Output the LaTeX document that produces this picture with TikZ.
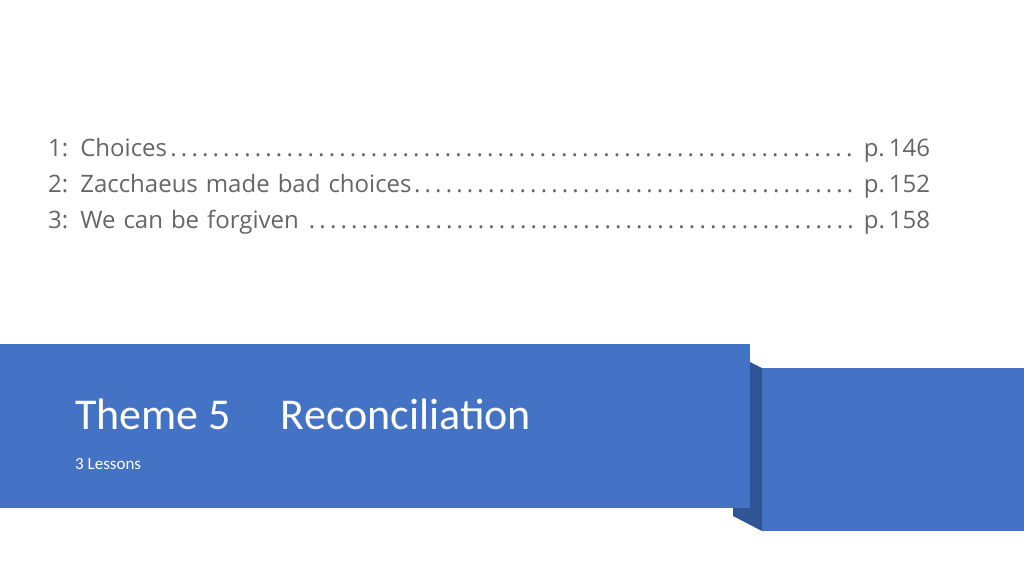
\documentclass[tikz,border=0pt]{standalone}
\usepackage{fontspec}
\setmainfont{Carlito}
\newfontfamily\tocfont{Open Sans}
\definecolor{toc}{HTML}{666666}
\definecolor{band}{HTML}{4472C4}
\definecolor{fold}{HTML}{2F5597}
\begin{document}
\begin{tikzpicture}[x=1pt,y=-1pt,
  tocline/.style={anchor=west,inner sep=0,text width=882pt,font=\tocfont\fontsize{24}{28}\selectfont,text=toc}]
\useasboundingbox (0,0) rectangle (1024,576);
\fill[white] (0,0) rectangle (1024,576);
\fill[fold] (750,362) -- (762,368) -- (762,531) -- (733,516) -- (733,508) -- (750,508) -- cycle;
\fill[band] (0,344) rectangle (750,508);
\fill[band] (762,368) rectangle (1024,531);
\node[tocline] (l1) at (48,150) {1: Choices\dotfill\ p.\,146};
\node[tocline] (l2) at (48,186) {2: Zacchaeus made bad choices\dotfill\ p.\,152};
\node[tocline] (l3) at (48,222) {3: We can be forgiven\ \dotfill\ p.\,158};
\node[anchor=west,inner sep=0,text=white,font=\fontsize{44}{50}\selectfont\addfontfeature{}] (t) at (75,414) {Theme 5\hspace{50pt}Reconciliation};
\node[anchor=west,inner sep=0,text=white,font=\fontsize{17}{20}\selectfont] (s) at (75,464) {3 Lessons};
\end{tikzpicture}
\end{document}
